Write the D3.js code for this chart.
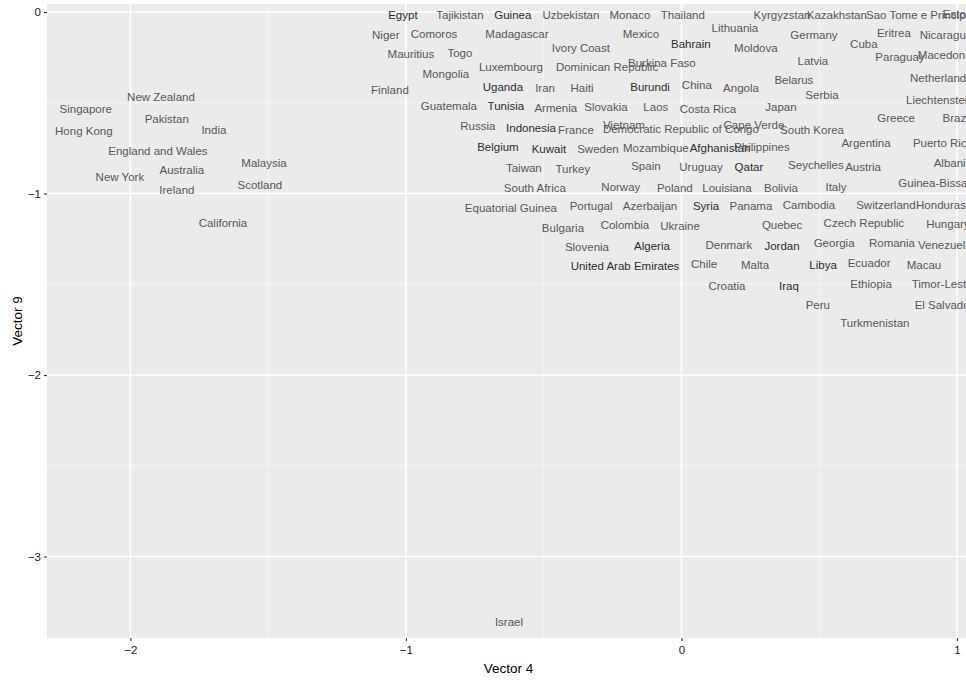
<!DOCTYPE html>
<html>
<head>
<meta charset="utf-8">
<script src="https://cdn.jsdelivr.net/npm/d3@7"></script>
<style>
  html, body { margin: 0; padding: 0; background: #ffffff; overflow: hidden; }
  svg { display: block; }
</style>
</head>
<body>
<svg id="chart" width="966" height="682"></svg>
<script>
// Country labels positioned by their scores on two vectors
const countries = [
  "Egypt","Tajikistan","Guinea","Uzbekistan","Monaco","Thailand","Kyrgyzstan","Kazakhstan","Sao Tome e Principe","Estonia",
  "Niger","Comoros","Madagascar","Mexico","Lithuania","Germany","Eritrea","Nicaragua","Bahrain","Cuba",
  "Moldova","Ivory Coast","Mauritius","Togo","Macedonia","Paraguay","Burkina Faso","Latvia","Luxembourg","Dominican Republic",
  "Mongolia","Netherlands","Belarus","Finland","Uganda","Iran","Haiti","Burundi","China","Angola",
  "Serbia","Liechtenstein","Guatemala","Tunisia","Armenia","Slovakia","Laos","Costa Rica","Japan","Greece",
  "Brazil","Russia","Indonesia","France","Vietnam","Democratic Republic of Congo","Cape Verde","South Korea","Belgium","Kuwait",
  "Sweden","Mozambique","Afghanistan","Philippines","Argentina","Puerto Rico","Taiwan","Turkey","Spain","Uruguay",
  "Qatar","Seychelles","Austria","Albania","South Africa","Norway","Poland","Louisiana","Bolivia","Italy",
  "Guinea-Bissau","Equatorial Guinea","Portugal","Azerbaijan","Syria","Panama","Cambodia","Switzerland","Honduras","Bulgaria",
  "Colombia","Ukraine","Quebec","Czech Republic","Hungary","Slovenia","Algeria","Denmark","Jordan","Georgia",
  "Romania","Venezuela","United Arab Emirates","Chile","Malta","Libya","Ecuador","Macau","Croatia","Iraq",
  "Ethiopia","Timor-Leste","Peru","El Salvador","Turkmenistan","New Zealand","Singapore","Pakistan","Hong Kong","India",
  "England and Wales","Malaysia","Australia","New York","Ireland","Scotland","California","Israel"
];

const vector4 = [
  -1.011,-0.804,-0.612,-0.401,-0.187,0.005,0.365,0.564,0.862,1.018,
  -1.073,-0.898,-0.597,-0.147,0.194,0.481,0.771,0.960,0.034,0.662,
  0.270,-0.365,-0.982,-0.804,0.960,0.793,-0.071,0.477,-0.619,-0.270,
  -0.855,0.942,0.408,-1.058,-0.648,-0.495,-0.361,-0.114,0.056,0.216,
  0.510,0.938,-0.844,-0.637,-0.456,-0.274,-0.093,0.096,0.361,0.779,
  1.000,-0.739,-0.546,-0.383,-0.209,-0.002,0.263,0.474,-0.666,-0.481,
  -0.303,-0.093,0.140,0.292,0.670,0.949,-0.572,-0.394,-0.129,0.071,
  0.245,0.488,0.659,0.985,-0.532,-0.220,-0.024,0.165,0.361,0.561,
  0.924,-0.619,-0.328,-0.114,0.089,0.252,0.463,0.742,0.942,-0.430,
  -0.205,-0.005,0.365,0.662,0.967,-0.343,-0.107,0.172,0.365,0.554,
  0.764,0.956,-0.205,0.082,0.267,0.514,0.681,0.880,0.165,0.390,
  0.688,0.946,0.495,0.953,0.702,-1.889,-2.162,-1.868,-2.169,-1.697,
  -1.900,-1.515,-1.813,-2.038,-1.831,-1.530,-1.664,-0.626
];

const vector9 = [
  -0.017,-0.017,-0.017,-0.017,-0.017,-0.017,-0.017,-0.017,-0.017,-0.011,
  -0.127,-0.121,-0.121,-0.121,-0.088,-0.127,-0.116,-0.127,-0.176,-0.176,
  -0.198,-0.198,-0.231,-0.226,-0.237,-0.248,-0.281,-0.270,-0.303,-0.303,
  -0.342,-0.364,-0.375,-0.430,-0.413,-0.419,-0.419,-0.413,-0.402,-0.419,
  -0.457,-0.485,-0.518,-0.518,-0.529,-0.523,-0.523,-0.534,-0.523,-0.584,
  -0.584,-0.628,-0.639,-0.650,-0.623,-0.645,-0.623,-0.650,-0.744,-0.755,
  -0.755,-0.749,-0.749,-0.744,-0.722,-0.722,-0.860,-0.865,-0.848,-0.854,
  -0.854,-0.843,-0.854,-0.832,-0.970,-0.964,-0.970,-0.970,-0.970,-0.964,
  -0.942,-1.080,-1.069,-1.069,-1.069,-1.069,-1.063,-1.063,-1.063,-1.190,
  -1.174,-1.179,-1.174,-1.163,-1.168,-1.295,-1.289,-1.284,-1.289,-1.273,
  -1.273,-1.284,-1.399,-1.388,-1.394,-1.394,-1.383,-1.394,-1.510,-1.510,
  -1.499,-1.499,-1.614,-1.614,-1.713,-0.468,-0.534,-0.590,-0.656,-0.650,
  -0.766,-0.832,-0.871,-0.909,-0.981,-0.953,-1.163,-3.361
];

// Labels printed in the darker shade
const darkGroup = [
  "Egypt","Guinea","Uganda","Burundi","Bahrain","Tunisia","Indonesia","Belgium","Kuwait",
  "Afghanistan","Qatar","Syria","Algeria","United Arab Emirates","Jordan","Libya","Iraq"
];

const xTicks = [-2, -1, 0, 1];
const yTicks = [0, -1, -2, -3];
const xMinor = [-1.5, -0.5, 0.5];
const yMinor = [-0.5, -1.5, -2.5];
const xTitle = "Vector 4";
const yTitle = "Vector 9";

const svg = d3.select("#chart");
const W = 966, H = 682;
const panel = { left: 47, top: 4, right: 970, bottom: 638 };

const x = d3.scaleLinear().domain([-2.3026, 1.0472]).range([panel.left, panel.right]);
const y = d3.scaleLinear().domain([0.0441, -3.4490]).range([panel.top, panel.bottom]);

svg.append("rect").attr("width", W).attr("height", H).attr("fill", "#ffffff");

// Panel background
svg.append("rect")
  .attr("x", panel.left).attr("y", panel.top)
  .attr("width", panel.right - panel.left).attr("height", panel.bottom - panel.top)
  .attr("fill", "#ebebeb");

const grid = svg.append("g");
// Minor grid
grid.selectAll("line.xminor").data(xMinor).join("line")
  .attr("x1", d => x(d)).attr("x2", d => x(d))
  .attr("y1", panel.top).attr("y2", panel.bottom)
  .attr("stroke", "#f7f7f7").attr("stroke-width", 0.8);
grid.selectAll("line.yminor").data(yMinor).join("line")
  .attr("x1", panel.left).attr("x2", panel.right)
  .attr("y1", d => y(d)).attr("y2", d => y(d))
  .attr("stroke", "#f7f7f7").attr("stroke-width", 0.8);
// Major grid
grid.selectAll("line.xmajor").data(xTicks).join("line")
  .attr("x1", d => x(d)).attr("x2", d => x(d))
  .attr("y1", panel.top).attr("y2", panel.bottom)
  .attr("stroke", "#ffffff").attr("stroke-width", 1.5);
grid.selectAll("line.ymajor").data(yTicks).join("line")
  .attr("x1", panel.left).attr("x2", panel.right)
  .attr("y1", d => y(d)).attr("y2", d => y(d))
  .attr("stroke", "#ffffff").attr("stroke-width", 1.5);

// Axes
const xAxis = d3.axisBottom(x).tickValues(xTicks).tickSize(3).tickPadding(3).tickFormat(d3.format("d"));
const yAxis = d3.axisLeft(y).tickValues(yTicks).tickSize(3).tickPadding(3).tickFormat(d3.format("d"));

const gx = svg.append("g").attr("transform", `translate(0,${panel.bottom})`).call(xAxis);
const gy = svg.append("g").attr("transform", `translate(${panel.left},0)`).call(yAxis);
[gx, gy].forEach(g => {
  g.select(".domain").remove();
  g.selectAll(".tick line").attr("stroke", "#333333").attr("stroke-width", 1.1);
  g.selectAll(".tick text")
    .attr("fill", "#1a1a1a")
    .style("font-family", "'Liberation Sans', Arial, Helvetica, sans-serif")
    .style("font-size", "11.5px");
});
gx.selectAll(".tick text").attr("dy", "0.85em");

// Axis titles
svg.append("text")
  .attr("x", (panel.left + panel.right) / 2).attr("y", 668)
  .attr("text-anchor", "middle").attr("dominant-baseline", "central")
  .attr("fill", "#000000")
  .style("font-family", "'Liberation Sans', Arial, Helvetica, sans-serif")
  .style("font-size", "13.5px")
  .text(xTitle);
svg.append("text")
  .attr("transform", `translate(17,${(panel.top + panel.bottom) / 2}) rotate(-90)`)
  .attr("text-anchor", "middle").attr("dominant-baseline", "central")
  .attr("fill", "#000000")
  .style("font-family", "'Liberation Sans', Arial, Helvetica, sans-serif")
  .style("font-size", "13.5px")
  .text(yTitle);

// Country labels
const rows = countries.map((c, i) => ({ name: c, v4: vector4[i], v9: vector9[i], dark: darkGroup.includes(c) }));
svg.append("g").selectAll("text").data(rows).join("text")
  .attr("x", d => x(d.v4))
  .attr("y", d => y(d.v9))
  .attr("text-anchor", "middle")
  .attr("dominant-baseline", "central")
  .attr("fill", d => d.dark ? "#2b2b2b" : "#575757")
  .style("font-family", "'Liberation Sans', Arial, Helvetica, sans-serif")
  .style("font-size", "11.5px")
  .text(d => d.name);
</script>
</body>
</html>
